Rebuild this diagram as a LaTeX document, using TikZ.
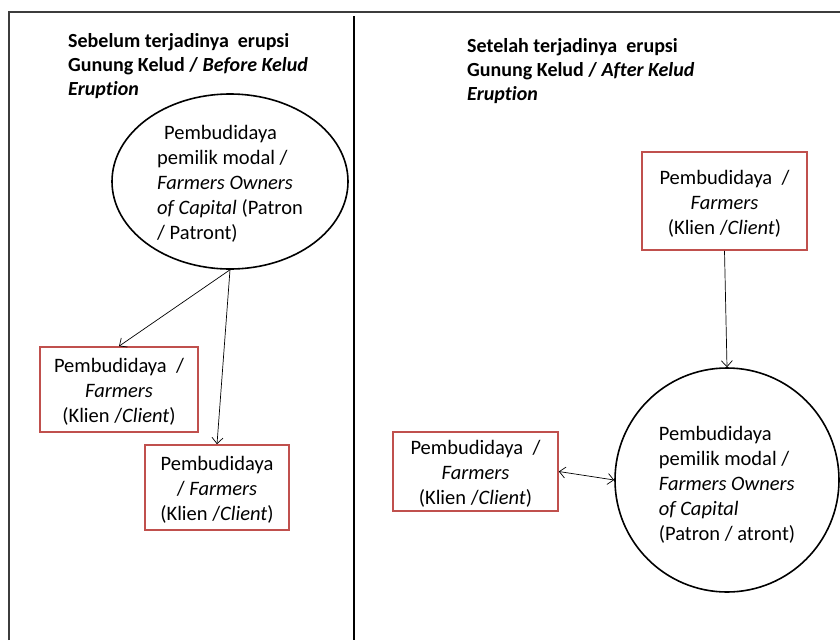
\documentclass[tikz,border=0pt]{standalone}
\usepackage{fontspec}
\setmainfont[Ligatures=NoCommon]{Carlito}
\usetikzlibrary{shapes.geometric,arrows.meta}
\definecolor{boxred}{RGB}{192,80,77}
\definecolor{framegray}{RGB}{60,60,60}
\newcommand{\dn}[1]{\rule{0pt}{#1}}
\tikzset{
  body/.style={font=\fontsize{20.5}{25}\selectfont},
  head/.style={font=\fontsize{20}{24}\selectfont\bfseries, align=left, inner sep=0pt, anchor=north west},
  redbox/.style={draw=boxred, line width=1.6pt, body, align=center, inner sep=0pt},
  patron/.style={draw=black, line width=1.6pt, body, align=left, inner sep=0pt},
  link/.style={line width=0.7pt, -{Straight Barb[length=6pt,width=11pt]}},
  both/.style={line width=0.7pt, {Straight Barb[length=6pt,width=11pt]}-{Straight Barb[length=6pt,width=11pt]}}
}
\begin{document}
\begin{tikzpicture}[x=1pt, y=-1pt]
\useasboundingbox (0,0) rectangle (840,640);
\fill[white] (0,0) rectangle (840,640);
% frame
\draw[framegray, line width=1.6pt] (9,640) -- (9,12) -- (840,12);
\draw[black, line width=2.6pt] (354,16) -- (354,640);
% headings
\node[head] (hleft) at (68,33) {Sebelum terjadinya\ \ erupsi\\Gunung Kelud / \textit{Before Kelud}\\\textit{Eruption}};
\node[head] (hright) at (467,38) {Setelah terjadinya\ \ erupsi\\Gunung Kelud / \textit{After Kelud}\\\textit{Eruption}};
% left side
\node[patron, ellipse, minimum width=236pt, minimum height=175pt] (patL) at (230,181.5)
  {\dn{19pt}\hspace*{7pt}Pembudidaya\\pemilik modal /\\\textit{Farmers Owners}\\\textit{of Capital} (Patron\\/ Patront)};
\node[redbox, minimum width=158pt, minimum height=85pt] (kl1) at (119,389.5)
  {\dn{19pt}Pembudidaya\ \ /\\\textit{Farmers}\\(Klien /\textit{Client})};
\node[redbox, minimum width=144pt, minimum height=85pt] (kl2) at (217,487.5)
  {\dn{19pt}Pembudidaya\\/ \textit{Farmers}\\(Klien /\textit{Client})};
\draw[link] (patL.south) -- (kl1.north);
\draw[link] (patL.south) -- (kl2.north);
% right side
\node[redbox, minimum width=165pt, minimum height=98pt] (kr1) at (724.5,201)
  {\dn{19pt}Pembudidaya\ \ /\\\textit{Farmers}\\(Klien /\textit{Client})};
\node[patron, circle, minimum size=224pt] (patR) at (727,480)
  {\dn{23pt}Pembudidaya\\pemilik modal /\\\textit{Farmers Owners}\\\textit{of Capital}\\(Patron / atront)};
\node[redbox, minimum width=165pt, minimum height=79pt] (kr2) at (475.5,471.5)
  {\dn{19pt}Pembudidaya\ \ /\\\textit{Farmers}\\(Klien /\textit{Client})};
\draw[link] (kr1.south) -- (patR.north);
\draw[both] (kr2.east) -- (patR.west);
\end{tikzpicture}
\end{document}
